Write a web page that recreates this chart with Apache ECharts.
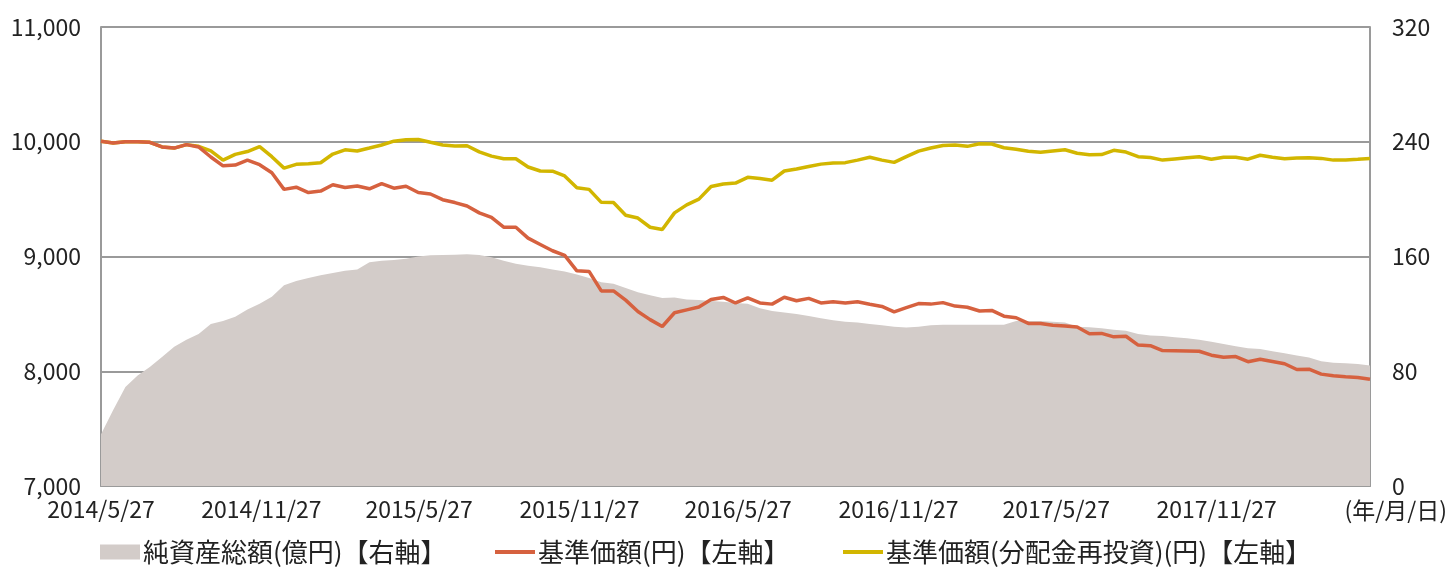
<!DOCTYPE html>
<html><head><meta charset="utf-8">
<script src="https://cdn.jsdelivr.net/npm/echarts@6/dist/echarts.min.js"></script>
<style>html,body{margin:0;padding:0;background:#fff}#c{width:1451px;height:572px}</style>
</head><body><div id="c"></div>
<script>
const dates = [
'2014/5/27','2014/6/10','2014/6/24','2014/7/8','2014/7/22','2014/8/5','2014/8/19','2014/9/2','2014/9/16','2014/9/30',
'2014/10/14','2014/10/28','2014/11/11','2014/11/25','2014/12/9','2014/12/23','2015/1/6','2015/1/20','2015/2/3','2015/2/17',
'2015/3/3','2015/3/17','2015/3/31','2015/4/14','2015/4/28','2015/5/12','2015/5/26','2015/6/9','2015/6/23','2015/7/7',
'2015/7/21','2015/8/4','2015/8/18','2015/9/1','2015/9/15','2015/9/29','2015/10/13','2015/10/27','2015/11/10','2015/11/24',
'2015/12/8','2015/12/22','2016/1/5','2016/1/19','2016/2/2','2016/2/16','2016/3/1','2016/3/15','2016/3/29','2016/4/12',
'2016/4/26','2016/5/10','2016/5/24','2016/6/7','2016/6/21','2016/7/5','2016/7/19','2016/8/2','2016/8/16','2016/8/30',
'2016/9/13','2016/9/27','2016/10/11','2016/10/25','2016/11/8','2016/11/22','2016/12/6','2016/12/20','2017/1/3','2017/1/17',
'2017/1/31','2017/2/14','2017/2/28','2017/3/14','2017/3/28','2017/4/11','2017/4/25','2017/5/9','2017/5/23','2017/6/6',
'2017/6/20','2017/7/4','2017/7/18','2017/8/1','2017/8/15','2017/8/29','2017/9/12','2017/9/26','2017/10/10','2017/10/24',
'2017/11/7','2017/11/21','2017/12/5','2017/12/19','2018/1/2','2018/1/16','2018/1/30','2018/2/13','2018/2/27','2018/3/13',
'2018/3/27','2018/4/10','2018/4/24','2018/5/8','2018/5/22'
];
// 純資産総額(億円) right axis
const totalNetAssets = [
36,53,69,77,83,90,97,102,106,113,
115,118,123,127,132,140,143,145,147,148.5,
150,151,156,157,157.5,158.5,160,160.8,161,161.2,
161.5,161,159.5,157,155,153.5,152.5,151,149.5,147.5,
145,142,141,138,135,133,131,131.5,130,129.6,
129,128.5,127.5,127,124,122,121,120,118.5,117,
115.5,114.5,114,113,112,111,110.5,111,112,112.5,
112.5,112.5,112.5,112.5,112.5,115,115,115,114.5,114,
111,110.6,110,109,108.3,106,105,104.5,103.7,103,
102,100.5,99,97.5,96,95.5,94,92.5,91,89.5,
87,86,85.5,85,84
];
// 基準価額(円) left axis
const navPrice = [
10005,9990,10000,10000,9995,9955,9945,9975,9955,9867,
9790,9797,9840,9800,9730,9585,9604,9557,9570,9625,
9602,9615,9590,9635,9595,9612,9558,9545,9495,9470,
9440,9380,9340,9255,9255,9160,9105,9050,9010,8875,
8870,8700,8700,8620,8520,8450,8390,8510,8535,8560,
8625,8643,8595,8640,8595,8585,8645,8614,8635,8595,
8605,8595,8605,8584,8565,8518,8555,8590,8585,8598,
8568,8558,8525,8530,8480,8466,8417,8417,8400,8395,
8385,8326,8330,8300,8305,8228,8223,8180,8178,8176,
8174,8140,8122,8128,8083,8105,8085,8065,8015,8018,
7975,7960,7952,7945,7930
];
// 基準価額(分配金再投資)(円) left axis
const navReinvested = [
10005,9990,10000,10000,9995,9955,9945,9975,9960,9920,
9840,9890,9915,9958,9870,9770,9803,9808,9817,9893,
9930,9920,9945,9972,10005,10018,10020,9995,9972,9962,
9965,9912,9875,9852,9852,9780,9745,9743,9702,9600,
9585,9472,9470,9360,9335,9255,9235,9380,9450,9500,
9610,9632,9640,9690,9680,9665,9745,9762,9785,9805,
9815,9818,9840,9865,9840,9820,9870,9918,9945,9967,
9972,9960,9982,9980,9948,9935,9918,9908,9919,9930,
9900,9887,9888,9925,9910,9870,9862,9840,9850,9860,
9870,9848,9865,9865,9848,9882,9865,9852,9858,9860,
9855,9840,9842,9848,9855
];
const xTickLabels = ['2014/5/27','2014/11/27','2015/5/27','2015/11/27','2016/5/27','2016/11/27','2017/5/27','2017/11/27'];
const seriesNames = ['純資産総額(億円)【右軸】','基準価額(円)【左軸】','基準価額(分配金再投資)(円)【左軸】'];

function ts(s){const p=s.split('/').map(Number);return Date.UTC(p[0],p[1]-1,p[2]);}
function fmt(v){const d=new Date(v);return d.getUTCFullYear()+'/'+(d.getUTCMonth()+1)+'/'+d.getUTCDate();}
const pair = arr => dates.map((d,i)=>[ts(d),arr[i]]);

const FONT = "'Noto Sans CJK JP', 'Noto Sans', sans-serif";
const AX = '#9a9a9a';
const LINE_ICON = 'path://M0,0M0,5.5H40V9.5H0ZM40,15';
function legendFor(name, left, icon){
  return {left:left, top:539, itemWidth:40, itemHeight:15, padding:0,
    textStyle:{fontFamily:FONT,fontSize:26,color:'#222',padding:[0,0,0,-2]},
    data:[{name:name, icon:icon}]};
}
const chart = echarts.init(document.getElementById('c'), null, {renderer:'canvas'});
chart.setOption({
  animation:false,
  textStyle:{fontFamily:FONT},
  grid:{left:101,right:81,top:27,bottom:86,containLabel:false},
  legend:[
    legendFor(seriesNames[0],100,'rect'),
    legendFor(seriesNames[1],495,LINE_ICON),
    legendFor(seriesNames[2],843,LINE_ICON)
  ],
  xAxis:{
    type:'value', min:ts(dates[0]), max:ts(dates[dates.length-1]),
    axisLine:{show:true,lineStyle:{color:AX,width:2}},
    axisTick:{show:true,inside:true,length:7,lineStyle:{color:AX,width:1.5},customValues:xTickLabels.map(ts)},
    axisLabel:{customValues:xTickLabels.map(ts),formatter:fmt,fontSize:23,color:'#222',margin:12,fontFamily:FONT},
    splitLine:{show:false}
  },
  yAxis:[
    {type:'value',min:7000,max:11000,interval:1000,position:'left',
     axisLine:{show:true,lineStyle:{color:AX,width:2}},
     axisTick:{show:false},
     axisLabel:{fontSize:23,color:'#222',margin:20,fontFamily:FONT,formatter:v=>v.toLocaleString('en-US')},
     splitLine:{show:true,lineStyle:{color:AX,width:2}}},
    {type:'value',min:0,max:320,interval:80,position:'right',
     axisLine:{show:true,lineStyle:{color:AX,width:2}},
     axisTick:{show:true,inside:true,length:5,lineStyle:{color:AX}},
     axisLabel:{fontSize:23,color:'#222',margin:22,fontFamily:FONT},
     splitLine:{show:false}}
  ],
  graphic:[{type:'text',right:4,top:499,style:{text:'(年/月/日)',font:"23px 'Noto Sans CJK JP'",fill:'#222'}}],
  series:[
    {name:seriesNames[0],type:'line',yAxisIndex:1,data:pair(totalNetAssets),symbol:'none',
     color:'#d3ccc9',lineStyle:{width:0},areaStyle:{color:'#d3ccc9',opacity:1},z:1},
    {name:seriesNames[1],type:'line',yAxisIndex:0,data:pair(navPrice),symbol:'none',
     color:'#d6613f',lineStyle:{width:3.5,color:'#d6613f'},z:3},
    {name:seriesNames[2],type:'line',yAxisIndex:0,data:pair(navReinvested),symbol:'none',
     color:'#d2b600',lineStyle:{width:3.5,color:'#d2b600'},z:2}
  ]
});
</script></body></html>
